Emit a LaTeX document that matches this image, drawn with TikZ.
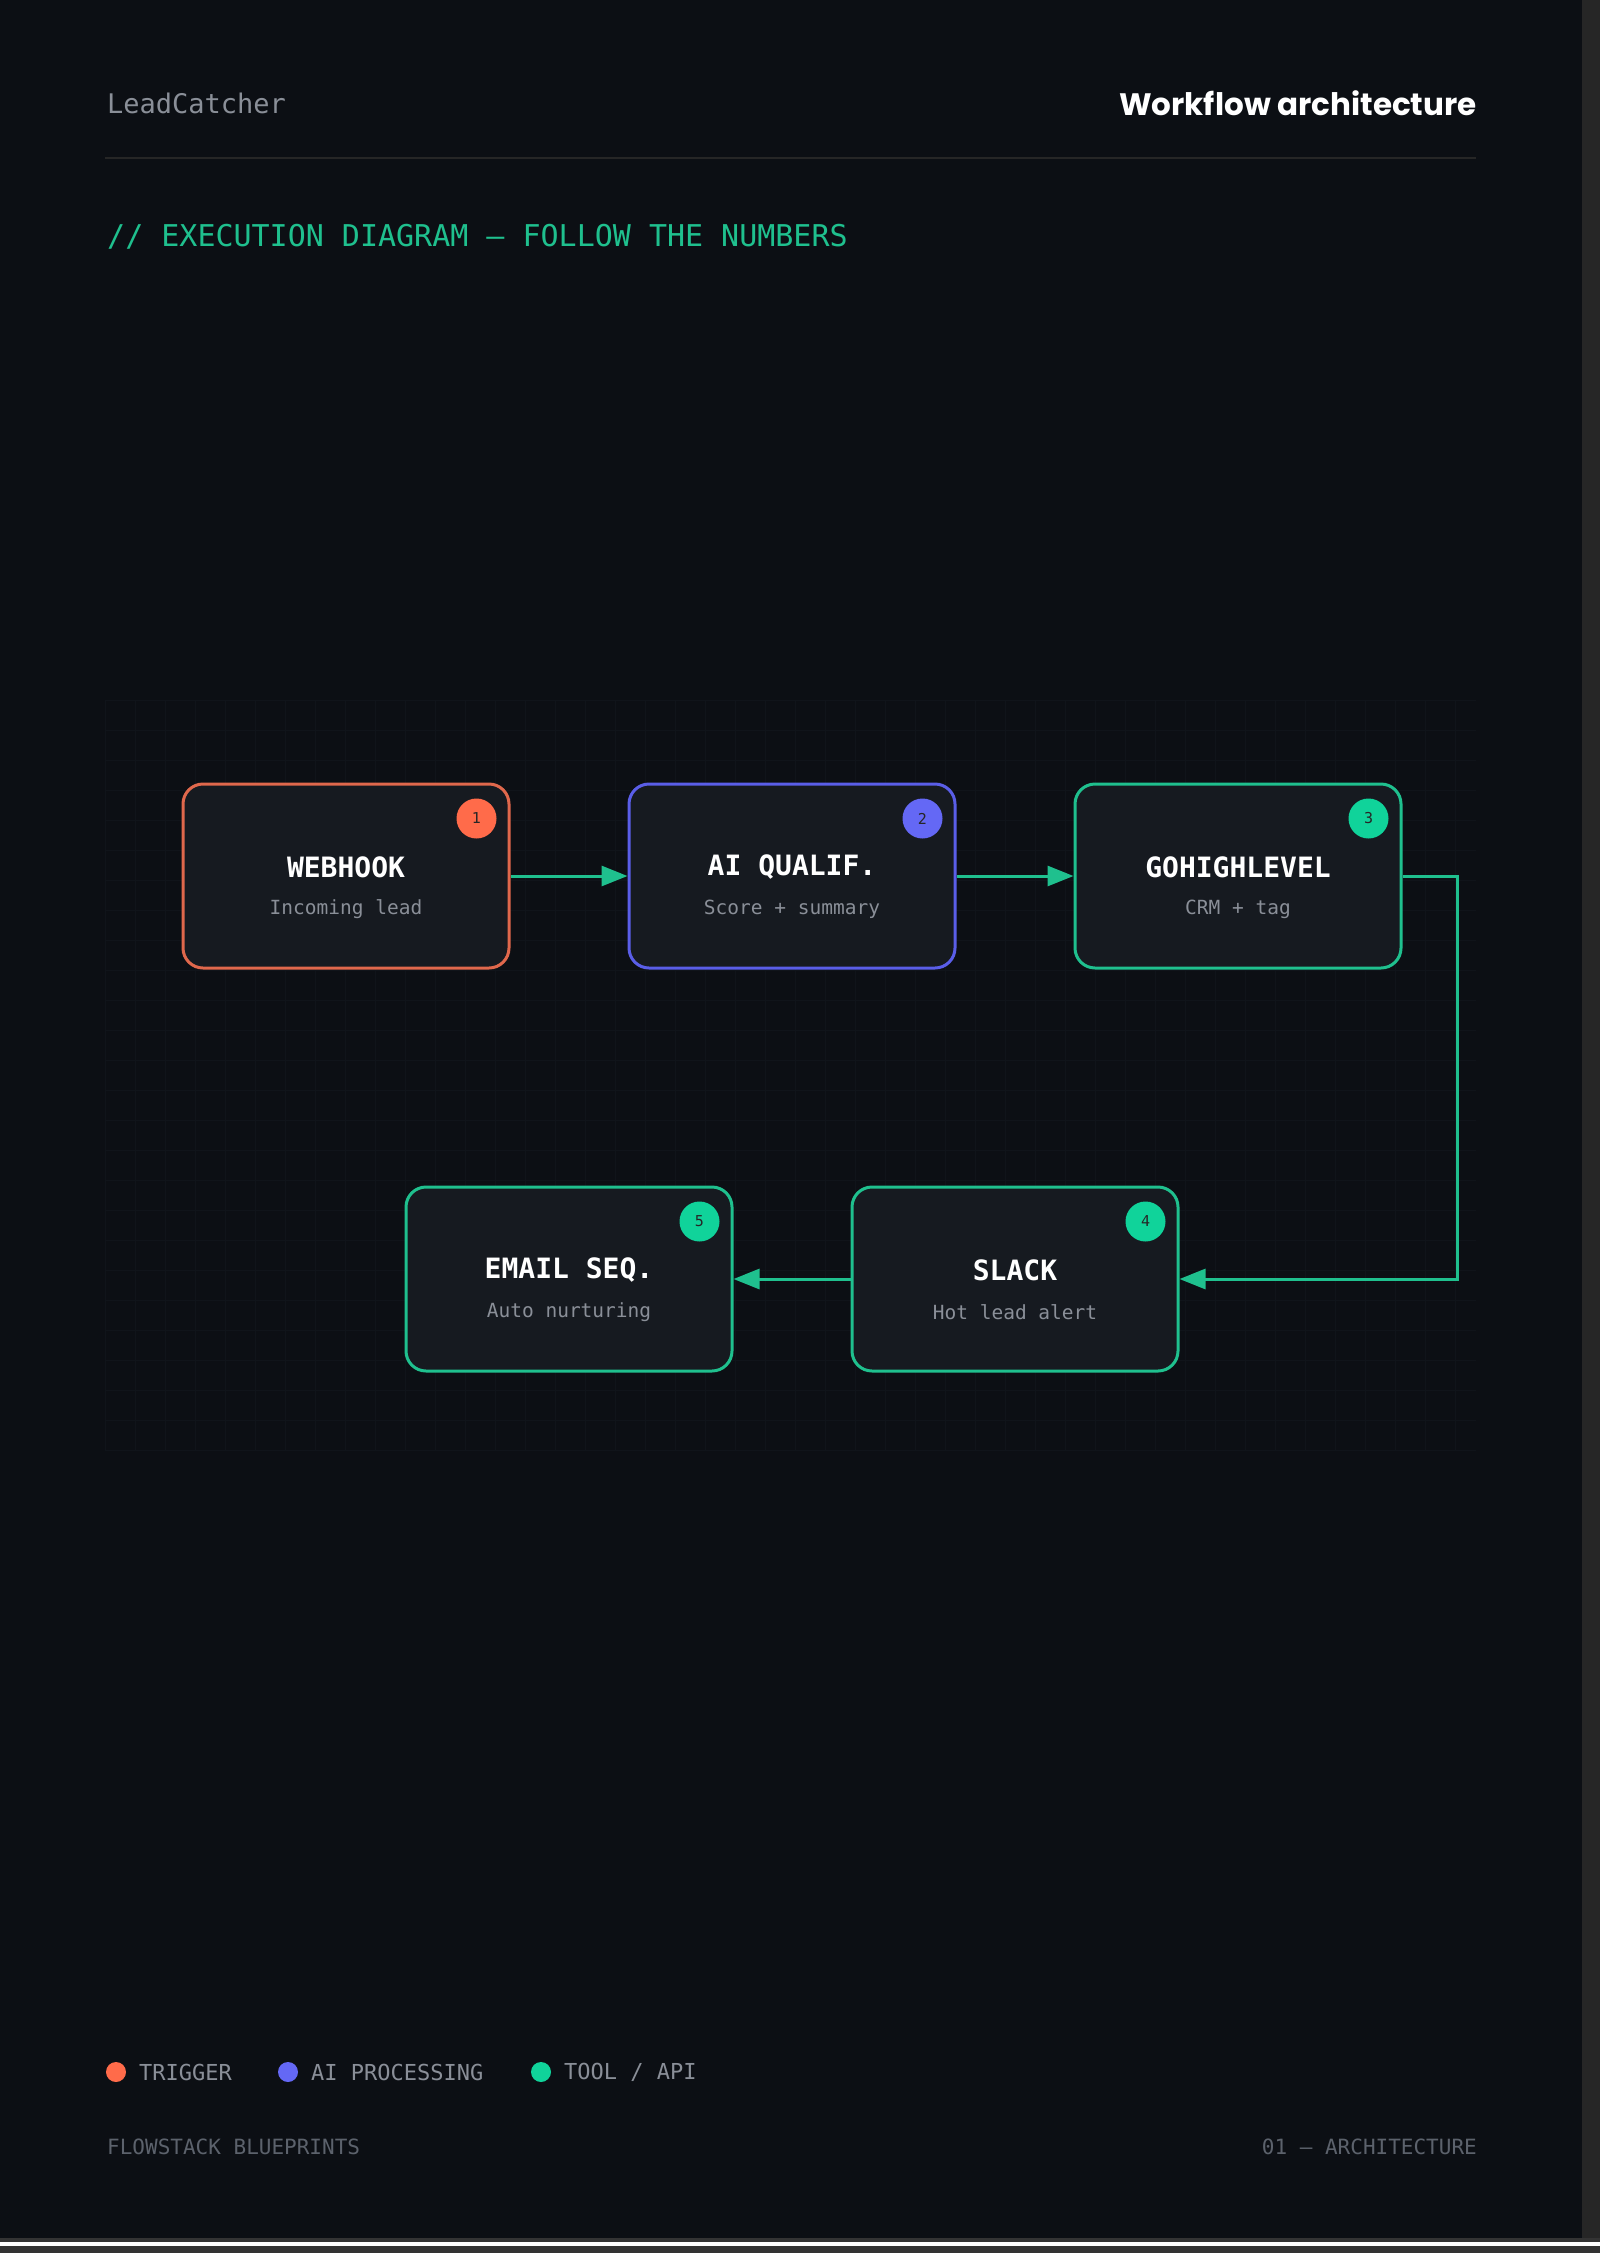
\documentclass[tikz,border=0pt]{standalone}
\usepackage{fontspec}
\setmonofont{DejaVu Sans Mono}
\newfontfamily\pop{Poppins}[UprightFont=* Bold]
\usetikzlibrary{arrows.meta}
\definecolor{bg}{HTML}{0C0F14}
\definecolor{boxbg}{HTML}{161A20}
\definecolor{cor}{HTML}{E0684C}
\definecolor{cbl}{HTML}{5A5EE8}
\definecolor{cgr}{HTML}{1FC08E}
\definecolor{bor}{HTML}{FF6B4A}
\definecolor{bbl}{HTML}{6468F5}
\definecolor{bgr}{HTML}{10D39A}
\definecolor{txtg}{HTML}{8A8F98}
\definecolor{dimg}{HTML}{5C626C}
\definecolor{gridc}{HTML}{10141A}
\begin{document}
\begin{tikzpicture}[x=1pt,y=-1pt,
  box/.style={draw=#1,line width=3pt,fill=boxbg,rounded corners=20pt,minimum width=326pt,minimum height=184pt,inner sep=0pt},
  ttl/.style={text=white,font=\ttfamily\bfseries\fontsize{28}{30}\selectfont},
  sub/.style={text=txtg,font=\ttfamily\fontsize{19.5}{22}\selectfont},
  badge/.style={circle,fill=#1,minimum size=40pt,inner sep=0pt,font=\ttfamily\fontsize{15}{16}\selectfont,text=black!85},
  conn/.style={draw=cgr,line width=3pt,-{Triangle[length=26pt,width=20pt]}},
  ldot/.style={circle,fill=#1,minimum size=20pt,inner sep=0pt},
  ltxt/.style={text=txtg,font=\ttfamily\fontsize{22}{24}\selectfont,anchor=west,inner sep=0pt},
  foot/.style={text=dimg,font=\ttfamily\fontsize{21}{23}\selectfont,inner sep=0pt}]
\useasboundingbox (0,0) rectangle (1600,2253);
\fill[bg] (0,0) rectangle (1600,2253);
\fill[black!85] (1582,0) rectangle (1600,2253);
\fill[black!80] (0,2238) rectangle (1600,2253);
\fill[white] (0,2242) rectangle (1600,2246);
% faint grid
\foreach \gx in {105,135,...,1480} \draw[gridc,line width=0.8pt] (\gx,700) -- (\gx,1450);
\foreach \gy in {700,730,...,1450} \draw[gridc,line width=0.8pt] (105,\gy) -- (1476,\gy);
% header
\node[anchor=west,inner sep=0pt,text=txtg,font=\ttfamily\fontsize{27}{29}\selectfont] (brand) at (107,103) {LeadCatcher};
\node[anchor=east,inner sep=0pt,text=white,font=\pop\fontsize{31}{33}\selectfont] (htitle) at (1477,103) {Workflow architecture};
\draw[black!70!gray,line width=1.5pt] (105,158) -- (1476,158);
\node[anchor=west,inner sep=0pt,text=cgr,font=\ttfamily\fontsize{30}{32}\selectfont] (sect) at (107,237) {// EXECUTION DIAGRAM — FOLLOW THE NUMBERS};
% boxes
\node[box=cor] (b1) at (346,876) {};
\node[box=cbl] (b2) at (792,876) {};
\node[box=cgr] (b3) at (1238,876) {};
\node[box=cgr] (b4) at (1015,1279) {};
\node[box=cgr] (b5) at (569,1279) {};
\foreach \b/\t/\s/\c/\n in {b1/WEBHOOK/Incoming lead/bor/1, b2/AI QUALIF./Score + summary/bbl/2, b3/GOHIGHLEVEL/CRM + tag/bgr/3, b4/SLACK/Hot lead alert/bgr/4, b5/EMAIL SEQ./Auto nurturing/bgr/5}{
  \node[ttl] (\b t) at ([yshift=9pt]\b.center) {\t};
  \node[sub] (\b s) at ([yshift=-33pt]\b.center) {\s};
  \node[badge=\c] (\b n) at ([xshift=-34pt,yshift=-36pt]\b.north east) {\n};
}
% connectors
\coordinate (c1) at (1457,876);
\coordinate (c2) at (1457,1279);
\draw[conn] (b1) -- (b2);
\draw[conn] (b2) -- (b3);
\draw[conn] (b3.east) -- (c1) -- (c2) -- (b4.east);
\draw[conn] (b4) -- (b5);
% legend
\node[ldot=bor] (l1) at (116,2072) {};
\node[ltxt] (l1t) at (139,2072) {TRIGGER};
\node[ldot=bbl] (l2) at (288,2072) {};
\node[ltxt] (l2t) at (311,2072) {AI PROCESSING};
\node[ldot=bgr] (l3) at (541,2072) {};
\node[ltxt] (l3t) at (564,2072) {TOOL / API};
% footer
\node[foot,anchor=west] (f1) at (107,2147) {FLOWSTACK BLUEPRINTS};
\node[foot,anchor=east] (f2) at (1477,2147) {01 — ARCHITECTURE};
\end{tikzpicture}
\end{document}
